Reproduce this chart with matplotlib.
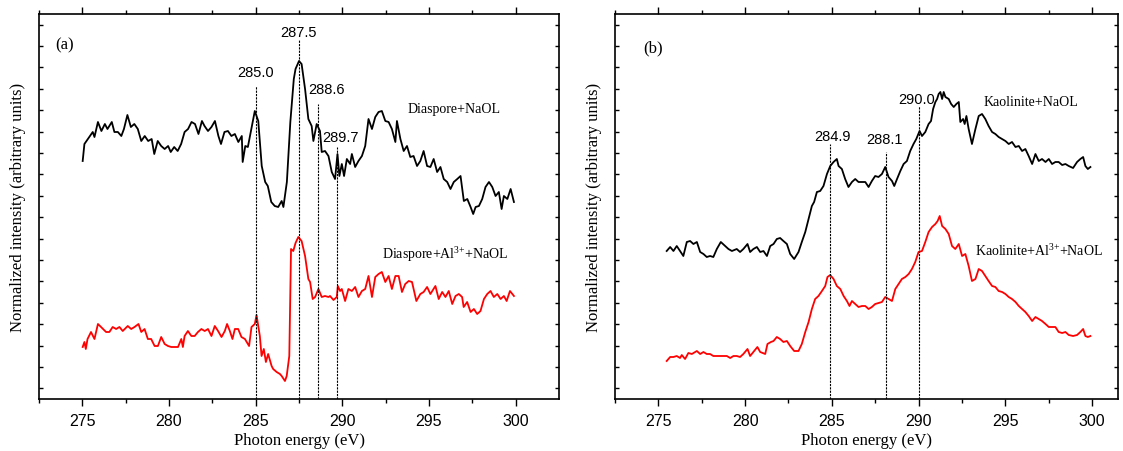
import matplotlib
matplotlib.use("Agg")
import matplotlib.pyplot as plt
import numpy as np

plt.rcParams['font.family'] = ['Liberation Serif', 'DejaVu Serif']
plt.rcParams['mathtext.fontset'] = 'custom'
plt.rcParams['mathtext.rm'] = 'Liberation Serif'
plt.rcParams['mathtext.default'] = 'regular'

# (a) Diaspore + NaOL (black)
dia_x = [275.02, 275.12, 275.4, 275.6, 275.7, 275.9, 276.1, 276.3, 276.45, 276.7, 276.85, 277.05,
         277.25, 277.4, 277.6, 277.8, 278.0, 278.2, 278.4, 278.6, 278.8, 279.0, 279.15, 279.35,
         279.55, 279.75, 279.95, 280.1, 280.3, 280.5, 280.7, 280.9, 281.1, 281.3, 281.5, 281.7,
         281.9, 282.05, 282.25, 282.45, 282.65, 282.85, 283.0, 283.2, 283.4, 283.6, 283.8, 284.0,
         284.2, 284.25, 284.4, 284.55, 284.75, 284.95, 285.15, 285.35, 285.55, 285.7, 285.9, 286.1,
         286.3, 286.5, 286.6, 286.8, 287.0, 287.2, 287.3, 287.5, 287.65, 287.85, 288.04, 288.23,
         288.33, 288.52, 288.71, 288.81, 289.0, 289.2, 289.39, 289.58, 289.72, 289.83, 289.97, 290.1,
         290.26, 290.45, 290.55, 290.74, 290.93, 291.13, 291.32, 291.51, 291.71, 291.9, 292.09, 292.28,
         292.48, 292.67, 292.86, 293.06, 293.15, 293.35, 293.54, 293.73, 293.92, 294.11, 294.31, 294.5,
         294.69, 294.89, 295.08, 295.27, 295.47, 295.66, 295.85, 296.05, 296.24, 296.43, 296.63, 296.82,
         297.01, 297.21, 297.4, 297.55, 297.69, 297.88, 298.07, 298.26, 298.46, 298.65, 298.84, 299.03,
         299.19, 299.32, 299.52, 299.71, 299.9]
dia_y = [238, 255, 262, 267, 262, 277, 268, 275, 270, 277, 267, 267,
         263, 270, 284, 272, 275, 270, 258, 263, 258, 260, 245, 258,
         253, 250, 253, 247, 252, 248, 255, 267, 270, 277, 275, 265,
         278, 273, 268, 272, 278, 263, 255, 267, 268, 263, 265, 257,
         263, 237, 253, 252, 270, 288, 278, 233, 217, 213, 197, 193,
         192, 198, 192, 217, 277, 320, 330, 338, 335, 310, 280, 273,
         258, 275, 268, 247, 248, 243, 227, 220, 245, 223, 235, 223,
         240, 235, 245, 232, 238, 243, 253, 280, 270, 282, 287, 288,
         278, 277, 270, 257, 278, 260, 248, 253, 242, 243, 233, 238,
         248, 233, 232, 240, 227, 232, 220, 217, 210, 217, 220, 223,
         198, 200, 192, 185, 192, 193, 200, 212, 217, 212, 203, 207,
         190, 203, 200, 210, 197]

# (a) Diaspore + Al3+ + NaOL (red)
dia_al_x = [275.02, 275.12, 275.2, 275.3, 275.5, 275.7, 275.9, 276.08, 276.37, 276.56, 276.75, 276.95,
            277.14, 277.33, 277.62, 277.82, 278.01, 278.24, 278.4, 278.59, 278.78, 278.97, 279.17, 279.36,
            279.55, 279.75, 279.94, 280.13, 280.32, 280.52, 280.71, 280.8, 280.9, 281.09, 281.29, 281.48,
            281.67, 281.87, 282.06, 282.25, 282.45, 282.64, 282.83, 283.03, 283.22, 283.35, 283.51, 283.66,
            283.8, 283.99, 284.18, 284.38, 284.62, 284.76, 284.95, 285.05, 285.24, 285.34, 285.47, 285.59,
            285.72, 285.92, 286.01, 286.21, 286.4, 286.5, 286.69, 286.79, 286.94, 287.04, 287.17, 287.3,
            287.46, 287.65, 287.85, 288.04, 288.14, 288.29, 288.43, 288.62, 288.81, 289.0, 289.2, 289.29,
            289.49, 289.68, 289.74, 289.87, 289.97, 290.16, 290.35, 290.55, 290.74, 290.93, 291.13, 291.32,
            291.51, 291.71, 291.9, 292.09, 292.28, 292.48, 292.67, 292.86, 293.06, 293.25, 293.44, 293.63,
            293.83, 294.02, 294.27, 294.5, 294.69, 294.89, 295.08, 295.37, 295.56, 295.76, 295.95, 296.14,
            296.34, 296.53, 296.72, 296.91, 297.0, 297.2, 297.4, 297.59, 297.78, 297.97, 298.17, 298.36,
            298.55, 298.74, 298.94, 299.13, 299.32, 299.48, 299.67, 299.9]
dia_al_y = [52, 57, 50, 60, 67, 60, 75, 72, 67, 67, 72, 70,
            72, 68, 73, 70, 72, 75, 67, 70, 60, 60, 53, 53,
            62, 55, 53, 52, 52, 52, 60, 52, 63, 68, 63, 63,
            67, 70, 68, 70, 63, 73, 68, 62, 68, 75, 68, 60,
            70, 70, 62, 60, 53, 72, 75, 84, 63, 43, 50, 37,
            45, 33, 30, 27, 25, 23, 18, 23, 43, 150, 148, 156,
            162, 158, 143, 120, 117, 100, 102, 110, 102, 103, 102, 103,
            99, 102, 113, 108, 110, 98, 110, 108, 112, 102, 108, 110,
            123, 102, 122, 125, 127, 117, 123, 110, 123, 123, 107, 115,
            118, 117, 98, 105, 107, 112, 105, 113, 100, 107, 102, 108,
            95, 103, 105, 102, 92, 97, 87, 90, 85, 88, 100, 105,
            108, 102, 105, 100, 103, 98, 108, 103]

# (b) Kaolinite + NaOL (black)
kao_x = [275.48, 275.68, 275.87, 276.06, 276.25, 276.44, 276.64, 276.83, 277.02, 277.22, 277.41, 277.6,
         277.79, 277.98, 278.17, 278.37, 278.6, 278.85, 279.04, 279.24, 279.52, 279.71, 279.9, 280.14,
         280.29, 280.48, 280.68, 280.87, 281.06, 281.26, 281.45, 281.64, 281.83, 282.02, 282.21, 282.41,
         282.6, 282.83, 283.08, 283.27, 283.47, 283.66, 283.85, 283.98, 284.14, 284.33, 284.52, 284.72,
         284.91, 285.1, 285.29, 285.39, 285.58, 285.77, 285.96, 286.16, 286.35, 286.54, 286.74, 286.93,
         287.12, 287.31, 287.5, 287.69, 287.89, 288.08, 288.27, 288.47, 288.6, 288.76, 288.95, 289.14,
         289.33, 289.52, 289.71, 289.87, 290.06, 290.2, 290.39, 290.58, 290.72, 290.84, 290.97, 291.07,
         291.16, 291.26, 291.36, 291.45, 291.55, 291.74, 291.88, 292.03, 292.18, 292.32, 292.41, 292.57,
         292.66, 292.76, 292.89, 293.08, 293.28, 293.47, 293.66, 293.85, 294.04, 294.24, 294.43, 294.62,
         294.82, 295.01, 295.2, 295.39, 295.59, 295.78, 295.97, 296.16, 296.35, 296.55, 296.74, 296.93,
         297.12, 297.32, 297.51, 297.7, 297.89, 298.08, 298.28, 298.47, 298.66, 298.91, 299.14, 299.33,
         299.49, 299.62, 299.76, 299.91]
kao_y = [148, 152, 148, 153, 148, 143, 157, 158, 155, 157, 147, 145,
         142, 143, 142, 150, 157, 153, 150, 148, 150, 147, 150, 155,
         147, 150, 152, 147, 148, 143, 153, 155, 160, 161, 158, 155,
         145, 140, 147, 157, 167, 180, 193, 197, 207, 208, 213, 225,
         233, 237, 240, 233, 230, 220, 212, 217, 220, 217, 217, 217,
         212, 218, 223, 222, 225, 232, 222, 218, 213, 220, 228, 235,
         238, 248, 255, 260, 268, 263, 267, 275, 278, 290, 297, 300,
         305, 307, 300, 307, 302, 300, 295, 292, 295, 297, 277, 280,
         275, 283, 270, 255, 270, 283, 285, 280, 273, 267, 265, 262,
         260, 258, 255, 257, 252, 253, 248, 250, 243, 235, 245, 238,
         240, 237, 240, 235, 237, 237, 234, 235, 233, 231, 237, 240,
         242, 233, 230, 232]

# (b) Kaolinite + Al3+ + NaOL (red)
kao_al_x = [275.48, 275.68, 275.87, 276.06, 276.25, 276.35, 276.54, 276.73, 276.93, 277.22, 277.41, 277.6,
            277.79, 277.98, 278.17, 278.56, 278.95, 279.14, 279.33, 279.52, 279.71, 279.9, 280.14, 280.29,
            280.48, 280.71, 280.87, 281.16, 281.29, 281.49, 281.64, 281.83, 282.02, 282.21, 282.41, 282.6,
            282.83, 283.08, 283.27, 283.47, 283.66, 283.85, 284.04, 284.23, 284.43, 284.62, 284.75, 284.91,
            285.1, 285.29, 285.49, 285.68, 285.87, 286.02, 286.16, 286.35, 286.54, 286.74, 286.93, 287.12,
            287.31, 287.5, 287.69, 287.89, 288.08, 288.27, 288.47, 288.66, 288.85, 289.04, 289.24, 289.43,
            289.62, 289.81, 290.0, 290.2, 290.39, 290.58, 290.78, 290.97, 291.1, 291.22, 291.36, 291.55,
            291.74, 291.93, 292.12, 292.32, 292.51, 292.7, 292.89, 293.08, 293.28, 293.47, 293.66, 293.85,
            294.04, 294.24, 294.43, 294.62, 294.82, 295.01, 295.2, 295.39, 295.59, 295.78, 295.97, 296.16,
            296.35, 296.55, 296.74, 296.93, 297.12, 297.32, 297.51, 297.7, 297.89, 298.08, 298.28, 298.47,
            298.66, 298.91, 299.14, 299.33, 299.49, 299.62, 299.76, 299.91]
kao_al_y = [38, 42, 42, 43, 41, 44, 40, 46, 45, 48, 45, 47,
            45, 45, 43, 43, 43, 41, 43, 43, 42, 45, 50, 43,
            47, 52, 47, 45, 55, 57, 58, 62, 60, 57, 58, 53,
            48, 48, 55, 67, 77, 90, 100, 103, 108, 113, 122, 124,
            120, 113, 110, 103, 98, 93, 98, 95, 92, 93, 93, 90,
            92, 95, 96, 97, 102, 100, 98, 110, 115, 120, 122, 125,
            130, 137, 147, 148, 157, 167, 172, 175, 178, 183, 173, 170,
            165, 153, 150, 155, 143, 145, 133, 118, 120, 130, 128, 123,
            118, 113, 112, 108, 107, 105, 102, 100, 97, 93, 90, 87,
            83, 78, 82, 80, 78, 75, 72, 72, 72, 67, 66, 67,
            64, 63, 64, 67, 70, 63, 62, 63]

# marked peak positions
peaks_a = [285.0, 287.5, 288.6, 289.7]
peaks_b = [284.9, 288.1, 290.0]

fig = plt.figure(figsize=(11.23, 4.52), dpi=100)
ax1 = fig.add_axes([39 / 1123, 52 / 452, 520 / 1123, 385 / 452])
ax2 = fig.add_axes([615 / 1123, 52 / 452, 503 / 1123, 385 / 452])


def style_axis(ax, xmax):
    ax.set_xlim(272.5, xmax)
    ax.set_ylim(0, 385)
    ax.set_xticks([275, 280, 285, 290, 295, 300])
    ax.set_xticks(np.arange(272.5, xmax, 2.5), minor=True)
    ax.set_yticks((np.arange(18) + 0.5) * 385 / 18)
    ax.set_yticklabels([])
    ax.tick_params(axis='x', which='major', direction='out', length=5, width=1,
                   top=True, labelsize=11.5, pad=5)
    ax.tick_params(axis='x', which='minor', direction='out', length=3, width=1, top=True)
    ax.tick_params(axis='y', direction='in', length=3, width=1, right=True)
    for lbl in ax.get_xticklabels():
        lbl.set_fontfamily('Liberation Sans')
    for s in ax.spines.values():
        s.set_linewidth(1.2)
    ax.set_xlabel('Photon energy (eV)', fontsize=12, labelpad=3)
    ax.set_ylabel('Normalized intensity (arbitrary units)', fontsize=12, labelpad=6)


style_axis(ax1, 302.5)
style_axis(ax2, 301.5)

# panel (a)
ax1.plot(dia_x, dia_y, color='black', lw=1.3)
ax1.plot(dia_al_x, dia_al_y, color='red', lw=1.3)
tops_a = [313, 360, 295, 252]
for p, t in zip(peaks_a, tops_a):
    ax1.plot([p, p], [0, t], color='black', lw=0.8, ls=(0, (2, 1)))
num_a = [(285.0, 327), (287.5, 367), (289.1, 310), (289.9, 262)]
for p, (xx, yy) in zip(peaks_a, num_a):
    ax1.text(xx, yy, f'{p:.1f}', ha='center', va='center', fontsize=10.5,
             fontfamily='Liberation Sans')
ax1.text(293.75, 291, 'Diaspore+NaOL', fontsize=10, va='center')
ax1.text(292.3, 145, 'Diaspore+Al$^{3{+}}$+NaOL', fontsize=10, va='center')
ax1.text(273.45, 355, '(a)', fontsize=12, va='center')

# panel (b)
ax2.plot(kao_x, kao_y, color='black', lw=1.3)
ax2.plot(kao_al_x, kao_al_y, color='red', lw=1.3)
tops_b = [255, 247, 293]
for p, t in zip(peaks_b, tops_b):
    ax2.plot([p, p], [0, t], color='black', lw=0.8, ls=(0, (2, 1)))
num_b = [(285.06, 263), (288.06, 260), (289.87, 300)]
for p, (xx, yy) in zip(peaks_b, num_b):
    ax2.text(xx, yy, f'{p:.1f}', ha='center', va='center', fontsize=10.5,
             fontfamily='Liberation Sans')
ax2.text(293.74, 297, 'Kaolinite+NaOL', fontsize=10, va='center')
ax2.text(293.27, 149, 'Kaolinite+Al$^{3{+}}$+NaOL', fontsize=10, va='center')
ax2.text(274.1, 352, '(b)', fontsize=12, va='center')

fig.savefig('out.png', dpi=100)
